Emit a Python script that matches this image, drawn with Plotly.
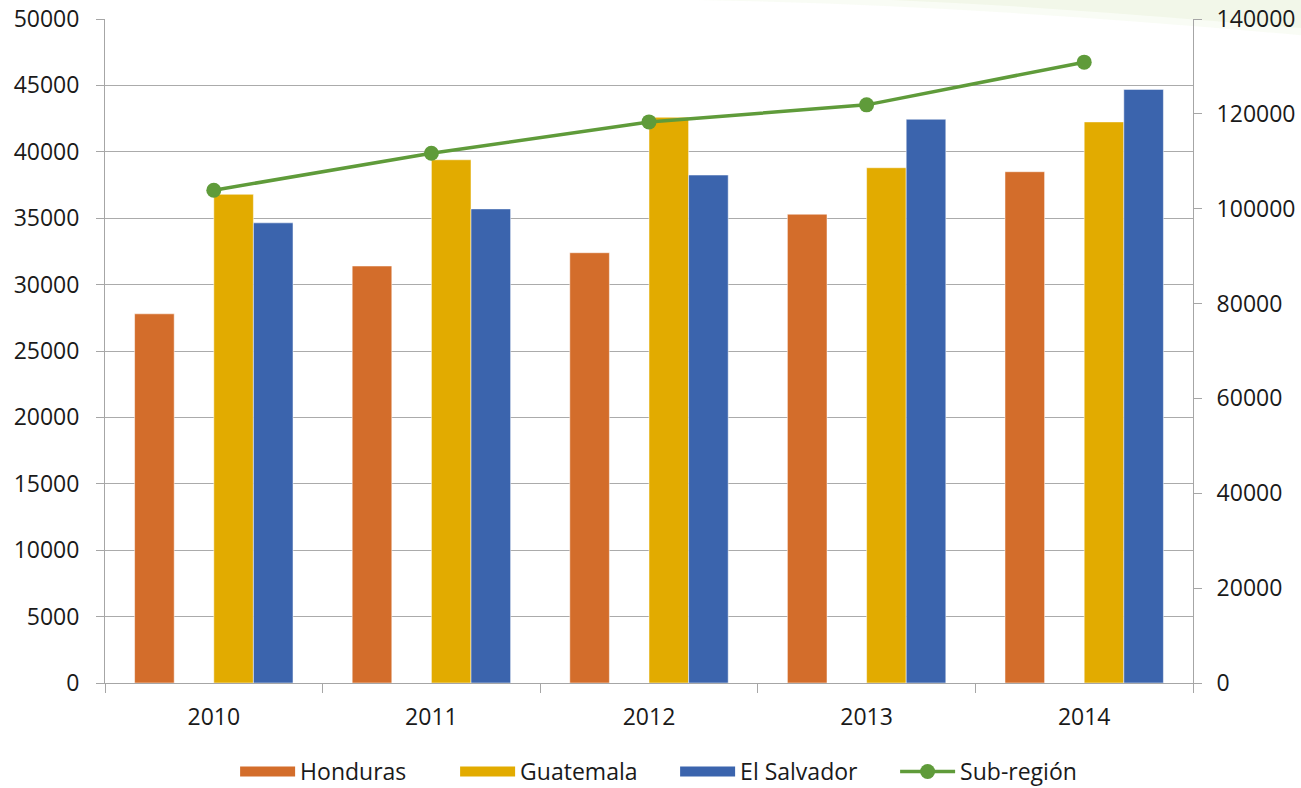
import plotly.graph_objects as go

years = ["2010", "2011", "2012", "2013", "2014"]
honduras = [27800, 31400, 32400, 35300, 38500]
guatemala = [36800, 39400, 42600, 38800, 42250]
el_salvador = [34650, 35700, 38250, 42450, 44700]
sub_region = [103900, 111700, 118300, 121900, 130900]

left_ticks = list(range(0, 50001, 5000))
right_ticks = list(range(0, 140001, 20000))

FONT = "Open Sans"
TXT = "#1a1a1a"
GRID = "#ABABAB"
AX = "#A6A6A6"
FS = 23

C_HON = "#D36D2B"
C_GUA = "#E2AB00"
C_SAL = "#3B64AD"
C_SUB = "#5F9B3A"

W = 0.182
fig = go.Figure()
fig.add_trace(go.Bar(x=years, y=honduras, name="Honduras", width=W, offset=-2 * W, showlegend=False,
                     marker=dict(color=C_HON, line=dict(color="rgba(255,255,255,0.5)", width=1))))
fig.add_trace(go.Bar(x=years, y=guatemala, name="Guatemala", width=W, offset=0, showlegend=False,
                     marker=dict(color=C_GUA, line=dict(color="rgba(255,255,255,0.5)", width=1))))
fig.add_trace(go.Bar(x=years, y=el_salvador, name="El Salvador", width=W, offset=W, showlegend=False,
                     marker=dict(color=C_SAL, line=dict(color="rgba(255,255,255,0.5)", width=1))))
# legend entries with wide rectangular swatches
for nm, col in [("Honduras", C_HON), ("Guatemala", C_GUA), ("El Salvador", C_SAL)]:
    fig.add_trace(go.Scatter(x=[None], y=[None], name=nm, mode="lines",
                             line=dict(color=col, width=16), hoverinfo="skip"))
fig.add_trace(go.Scatter(x=years, y=sub_region, name="Sub-región", yaxis="y2", mode="lines+markers",
                         line=dict(color=C_SUB, width=3.5),
                         marker=dict(color=C_SUB, size=15)))

# faint decorative swoosh in the top right
fig.add_shape(type="path", xref="paper", yref="paper", layer="below",
              path="M 0.45 1.03 C 0.7 1.03, 0.95 1.0, 1.2 0.96 L 1.2 1.04 Z",
              fillcolor="rgba(215,232,185,0.15)", line=dict(width=0))
fig.add_shape(type="path", xref="paper", yref="paper", layer="below",
              path="M 0.7 1.03 C 0.88 1.02, 1.05 0.99, 1.2 0.975 L 1.2 1.04 Z",
              fillcolor="rgba(215,232,185,0.2)", line=dict(width=0))

fig.update_layout(
    width=1301, height=788,
    margin=dict(l=105, r=108, t=19, b=105, autoexpand=False),
    paper_bgcolor="white", plot_bgcolor="rgba(0,0,0,0)",
    barmode="overlay",
    font=dict(family=FONT, size=FS, color=TXT),
    showlegend=True,
    legend=dict(orientation="h", x=0.524, xanchor="center", y=-0.101, yanchor="top",
                font=dict(family=FONT, size=FS, color=TXT), itemwidth=55,
                entrywidth=150, entrywidthmode="pixels",
                traceorder="normal", tracegroupgap=0),
    xaxis=dict(type="category", showgrid=False, showline=True, linecolor=AX, linewidth=1,
               ticks="outside", ticklen=9, tickcolor=AX, tickson="boundaries",
               ticklabelstandoff=13, tickfont=dict(size=FS, color=TXT),
               range=[-0.5, 4.5], automargin=False),
    yaxis=dict(range=[0, 50000], tickvals=left_ticks, tickformat="d", showgrid=True,
               gridcolor=GRID, gridwidth=1.3,
               showline=True, linecolor=AX, linewidth=1, ticks="outside", ticklen=8, tickcolor=AX,
               ticklabelstandoff=12, zeroline=False, tickfont=dict(size=FS, color=TXT),
               automargin=False),
    yaxis2=dict(range=[0, 140000], tickvals=right_ticks, tickformat="d", overlaying="y",
                side="right", showgrid=False, showline=True, linecolor=AX, linewidth=1,
                ticks="outside", ticklen=8, tickcolor=AX, ticklabelstandoff=10, zeroline=False,
                tickfont=dict(size=FS, color=TXT), automargin=False),
)

fig.write_html("out.html")
